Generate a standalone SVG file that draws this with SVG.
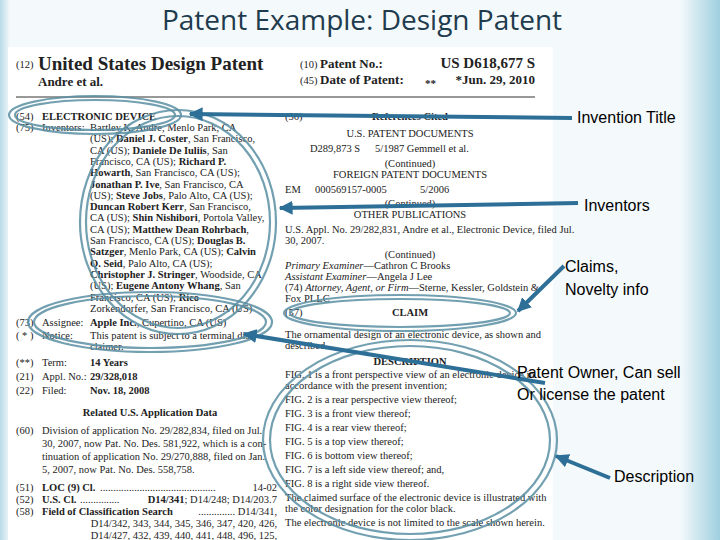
<svg xmlns="http://www.w3.org/2000/svg" width="720" height="540" viewBox="0 0 720 540">
<defs>
<style>
.s{font-family:"Liberation Serif",serif;font-size:10.5px;fill:#222}
.b{font-weight:bold}
.c{text-anchor:middle}
.l{font-family:"Liberation Sans",Arial,sans-serif;font-size:16px;fill:#000}
.e{fill:none;stroke:#5b8fa3;stroke-width:2.2;opacity:.85}
.a{stroke:#2d6f97;stroke-width:4;fill:none}
</style>
<linearGradient id="rg" x1="0" x2="1"><stop offset="0" stop-color="#f4f9fb"/><stop offset="1" stop-color="#9fcfe0"/></linearGradient>
<linearGradient id="lg" x1="1" x2="0"><stop offset="0" stop-color="#f4f9fb"/><stop offset="1" stop-color="#b8dbe7"/></linearGradient>
<marker id="m" viewBox="0 0 10 10" refX="9" refY="5" markerWidth="3.5" markerHeight="3.5" orient="auto"><path d="M0,0L10,5L0,10z" fill="#2d6f97"/></marker>
</defs>
<rect width="720" height="540" fill="#f4f9fb"/>
<rect x="680" y="0" width="40" height="540" fill="url(#rg)"/>
<rect x="0" y="0" width="10" height="540" fill="url(#lg)"/>
<text x="362" y="30" text-anchor="middle" font-family="Open Sans,sans-serif" font-size="28" fill="#1f3b4e">Patent Example: Design Patent</text>
<g id="patent">
<rect x="8" y="47" width="545" height="493" fill="#fff"/>
<text class="s" x="16" y="68">(12)</text>
<text class="s b" x="38" y="70" style="font-size:19px">United States Design Patent</text>
<text class="s b" x="38" y="86" style="font-size:13px">Andre et al.</text>
<text class="s" x="300" y="68">(10)</text><text class="s b" x="320" y="68" style="font-size:13px">Patent No.:</text>
<text class="s b" x="535" y="68" style="font-size:15px" text-anchor="end">US D618,677 S</text>
<text class="s" x="300" y="84">(45)</text><text class="s b" x="320" y="84" style="font-size:13px">Date of Patent:</text>
<text class="s b" x="425" y="87" style="font-size:11px">**</text>
<text class="s b" x="535" y="84" style="font-size:13px" text-anchor="end">*Jun. 29, 2010</text>
<line x1="16" y1="97" x2="535" y2="97" stroke="#333"/>
<text class="s" x="16" y="120">(54)</text><text class="s b" x="42" y="120">ELECTRONIC DEVICE</text>
<text class="s" x="16" y="131">(75)</text><text class="s" x="42" y="131">Inventors:</text>
<g class="s">
<text x="90" y="131">Bartley K. Andre, Menlo Park, CA</text>
<text x="90" y="142.3">(US); <tspan class="b">Daniel J. Coster</tspan>, San Francisco,</text>
<text x="90" y="153.6">CA (US); <tspan class="b">Daniele De Iuliis</tspan>, San</text>
<text x="90" y="164.9">Francisco, CA (US); <tspan class="b">Richard P.</tspan></text>
<text x="90" y="176.2"><tspan class="b">Howarth</tspan>, San Francisco, CA (US);</text>
<text x="90" y="187.5"><tspan class="b">Jonathan P. Ive</tspan>, San Francisco, CA</text>
<text x="90" y="198.8">(US); <tspan class="b">Steve Jobs</tspan>, Palo Alto, CA (US);</text>
<text x="90" y="210.1"><tspan class="b">Duncan Robert Kerr</tspan>, San Francisco,</text>
<text x="90" y="221.4">CA (US); <tspan class="b">Shin Nishibori</tspan>, Portola Valley,</text>
<text x="90" y="232.7">CA (US); <tspan class="b">Matthew Dean Rohrbach</tspan>,</text>
<text x="90" y="244">San Francisco, CA (US); <tspan class="b">Douglas B.</tspan></text>
<text x="90" y="255.3"><tspan class="b">Satzger</tspan>, Menlo Park, CA (US); <tspan class="b">Calvin</tspan></text>
<text x="90" y="266.6"><tspan class="b">Q. Seid</tspan>, Palo Alto, CA (US);</text>
<text x="90" y="277.9"><tspan class="b">Christopher J. Stringer</tspan>, Woodside, CA</text>
<text x="90" y="289.2">(US); <tspan class="b">Eugene Antony Whang</tspan>, San</text>
<text x="90" y="300.5">Francisco, CA (US); <tspan class="b">Rico</tspan></text>
<text x="90" y="311.8">Zorkendorfer, San Francisco, CA (US)</text>
<text x="16" y="326">(73)</text><text x="42" y="326">Assignee:</text><text x="90" y="326"><tspan class="b">Apple Inc.</tspan>, Cupertino, CA (US)</text>
<text x="16" y="339">( * )</text><text x="42" y="339">Notice:</text><text x="90" y="339">This patent is subject to a terminal dis-</text>
<text x="90" y="350">claimer.</text>
<text x="16" y="366">(**)</text><text x="42" y="366">Term:</text><text class="b" x="90" y="366">14 Years</text>
<text x="16" y="380">(21)</text><text x="42" y="380">Appl. No.:</text><text class="b" x="90" y="380">29/328,018</text>
<text x="16" y="394">(22)</text><text x="42" y="394">Filed:</text><text class="b" x="90" y="394">Nov. 18, 2008</text>
<text class="b c" x="150" y="416">Related U.S. Application Data</text>
<text x="16" y="434">(60)</text>
<text x="42" y="434">Division of application No. 29/282,834, filed on Jul.</text>
<text x="42" y="447">30, 2007, now Pat. No. Des. 581,922, which is a con-</text>
<text x="42" y="460">tinuation of application No. 29/270,888, filed on Jan.</text>
<text x="42" y="473">5, 2007, now Pat. No. Des. 558,758.</text>
<text x="16" y="491">(51)</text><text class="b" x="42" y="491">LOC (9) Cl.</text><text x="100" y="491">............................................</text><text x="277" y="491" text-anchor="end">14-02</text>
<text x="16" y="503">(52)</text><text class="b" x="42" y="503">U.S. Cl.</text><text x="80" y="503">...............</text><text x="277" y="503" text-anchor="end"><tspan class="b">D14/341</tspan>; D14/248; D14/203.7</text>
<text x="16" y="515">(58)</text><text class="b" x="42" y="515">Field of Classification Search</text><text x="277" y="515" text-anchor="end">.............. D14/341,</text>
<text x="277" y="527" text-anchor="end">D14/342, 343, 344, 345, 346, 347, 420, 426,</text>
<text x="277" y="539" text-anchor="end">D14/427, 432, 439, 440, 441, 448, 496, 125,</text>
<text x="285" y="120">(56)</text><text class="b c" x="410" y="120">References Cited</text>
<text class="c" x="410" y="137">U.S. PATENT DOCUMENTS</text>
<text x="310" y="152">D289,873  S</text><text x="375" y="152">5/1987  Gemmell et al.</text>
<text class="c" x="410" y="167">(Continued)</text>
<text class="c" x="410" y="178">FOREIGN PATENT DOCUMENTS</text>
<text x="285" y="193">EM</text><text x="315" y="193">000569157-0005</text><text x="420" y="193">5/2006</text>
<text class="c" x="410" y="207">(Continued)</text>
<text class="c" x="410" y="218">OTHER PUBLICATIONS</text>
<text x="285" y="233">U.S. Appl. No. 29/282,831, Andre et al., Electronic Device, filed Jul.</text>
<text x="285" y="244">30, 2007.</text>
<text class="c" x="410" y="258">(Continued)</text>
<text x="285" y="269"><tspan font-style="italic">Primary Examiner</tspan>—Cathron C Brooks</text>
<text x="285" y="280"><tspan font-style="italic">Assistant Examiner</tspan>—Angela J Lee</text>
<text x="285" y="291">(74) <tspan font-style="italic">Attorney, Agent, or Firm</tspan>—Sterne, Kessler, Goldstein &amp;</text>
<text x="285" y="302">Fox PLLC</text>
<text x="285" y="316">(57)</text><text class="b c" x="410" y="316">CLAIM</text>
<text x="285" y="338">The ornamental design of an electronic device, as shown and</text>
<text x="285" y="349">described.</text>
<text class="b c" x="410" y="365">DESCRIPTION</text>
<text x="285" y="378">FIG. 1 is a front perspective view of an electronic device in</text>
<text x="285" y="389">accordance with the present invention;</text>
<text x="285" y="403">FIG. 2 is a rear perspective view thereof;</text>
<text x="285" y="417">FIG. 3 is a front view thereof;</text>
<text x="285" y="431">FIG. 4 is a rear view thereof;</text>
<text x="285" y="445">FIG. 5 is a top view thereof;</text>
<text x="285" y="459">FIG. 6 is bottom view thereof;</text>
<text x="285" y="473">FIG. 7 is a left side view thereof; and,</text>
<text x="285" y="487">FIG. 8 is a right side view thereof.</text>
<text x="285" y="501">The claimed surface of the electronic device is illustrated with</text>
<text x="285" y="512">the color designation for the color black.</text>
<text x="285" y="526">The electronic device is not limited to the scale shown herein.</text>
</g>
</g>
<g id="highlights">
<ellipse class="e" cx="95" cy="115" rx="86" ry="19"/><ellipse class="e" cx="95" cy="115" rx="80" ry="15"/>
<ellipse class="e" cx="178" cy="222" rx="98" ry="112"/><ellipse class="e" cx="178" cy="222" rx="92" ry="106"/>
<ellipse class="e" cx="150" cy="322" rx="122" ry="30"/><ellipse class="e" cx="150" cy="322" rx="116" ry="26"/>
<ellipse class="e" cx="400" cy="313" rx="116" ry="18"/><ellipse class="e" cx="400" cy="313" rx="110" ry="14"/>
<ellipse class="e" cx="410" cy="440" rx="147" ry="100"/><ellipse class="e" cx="410" cy="440" rx="140" ry="94"/>
</g>
<g id="connectors">
<line class="a" x1="572" y1="118" x2="190" y2="114" marker-end="url(#m)"/>
<line class="a" x1="578" y1="203" x2="280" y2="208" marker-end="url(#m)"/>
<line class="a" x1="564" y1="266" x2="518" y2="311" stroke-width="2.5" marker-end="url(#m)"/>
<line class="a" x1="545" y1="383" x2="244" y2="334" marker-end="url(#m)"/>
<line class="a" x1="610" y1="478" x2="556" y2="456" stroke-width="2.5" marker-end="url(#m)"/>
</g>
<g id="labels">
<text class="l" x="577" y="123">Invention Title</text>
<text class="l" x="584" y="211">Inventors</text>
<text class="l" x="565" y="272">Claims,</text>
<text class="l" x="565" y="295">Novelty info</text>
<text class="l" x="517" y="378">Patent Owner, Can sell</text>
<text class="l" x="517" y="400">Or license the patent</text>
<text class="l" x="614" y="482">Description</text>
</g>
</svg>
